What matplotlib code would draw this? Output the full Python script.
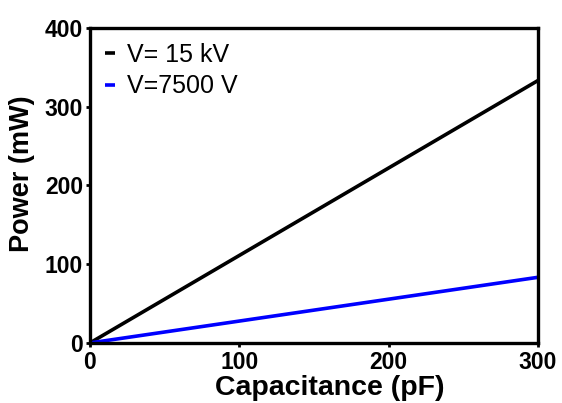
import numpy as np
import matplotlib
matplotlib.use("Agg")
from matplotlib import pyplot as plt

# data
capacitance = [0, 300]          # pF
power_15kv = [0, 333]           # mW
power_7500v = [0, 83.3]         # mW
x_ticks = [0, 100, 200, 300]
y_ticks = [0, 100, 200, 300, 400]

plt.rcParams['font.family'] = ['Liberation Sans', 'DejaVu Sans']

fig = plt.figure(figsize=(5.62, 4.03), dpi=100)
ax = fig.add_axes([0.160, 0.149, 0.797, 0.782])

ax.plot(capacitance, power_15kv, color='black', lw=2.6, label='V= 15 kV', solid_capstyle='butt')
ax.plot(capacitance, power_7500v, color='#0000ff', lw=2.6, label='V=7500 V', solid_capstyle='butt')

ax.set_xlim(0, 300)
ax.set_ylim(0, 400)
ax.set_xticks(x_ticks)
ax.set_yticks(y_ticks)

for s in ax.spines.values():
    s.set_linewidth(2.4)

ax.tick_params(direction='out', length=3, width=2, labelsize=16.5, pad=2)
ax.tick_params(axis='x', pad=2.5)
for lab in ax.get_xticklabels() + ax.get_yticklabels():
    lab.set_fontweight('bold')

ax.set_xlabel('Capacitance (pF)', fontsize=20.5, fontweight='bold')
ax.set_ylabel('Power (mW)', fontsize=19.5, fontweight='bold')
# labels sit a little off-centre in the original
ax.xaxis.set_label_coords(0.536, -0.102, transform=ax.transAxes)
ax.yaxis.set_label_coords(-0.122, 0.536, transform=ax.transAxes)

leg = ax.legend(loc='upper left', frameon=False, fontsize=18, handlelength=0.4,
                handletextpad=0.5, borderaxespad=0.3, labelspacing=0.3,
                borderpad=0.3)

fig.savefig('out.png', dpi=100)
